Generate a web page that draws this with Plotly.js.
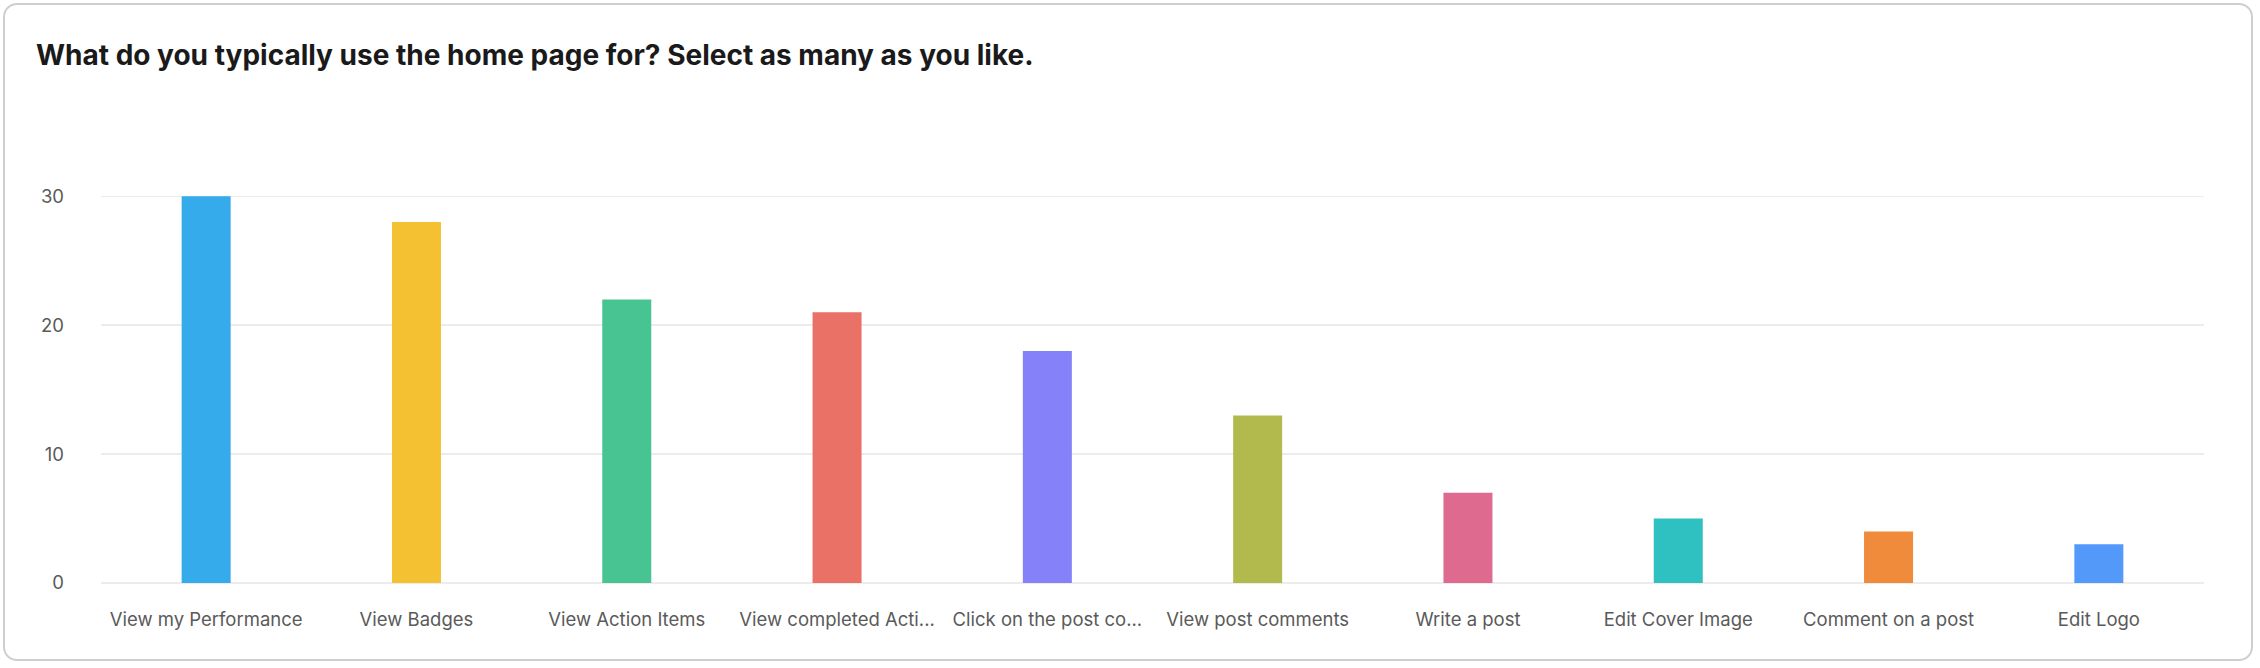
<!DOCTYPE html>
<html>
<head>
<meta charset="utf-8">
<script src="https://cdn.plot.ly/plotly-3.0.1.min.js"></script>
<style>
  html, body { margin: 0; padding: 0; background: #ffffff; }
  #wrap { position: relative; width: 2260px; height: 668px; }
  #chart { position: absolute; left: 0; top: 0; width: 2260px; height: 668px; }
  #card { position: absolute; left: 3px; top: 3px; width: 2246px; height: 654px;
          border: 2px solid #cfcfcf; border-radius: 14px; pointer-events: none; }
</style>
</head>
<body>
<div id="wrap">
  <div id="chart"></div>
  <div id="card"></div>
</div>
<script>
const categories = [
  "View my Performance", "View Badges", "View Action Items", "View completed Acti...",
  "Click on the post co...", "View post comments", "Write a post", "Edit Cover Image",
  "Comment on a post", "Edit Logo"
];
const counts = [30, 28, 22, 21, 18, 13, 7, 5, 4, 3];
const barColors = [
  "#36abeb", "#f3c131", "#48c493", "#e97166", "#8581f8",
  "#b2ba4e", "#de6a8f", "#2fc1c1", "#ef8b3a", "#5399fa"
];
const yTicks = [0, 10, 20, 30];
const chartTitle = "What do you typically use the home page for? Select as many as you like.";

const trace = {
  type: "bar",
  x: categories,
  y: counts,
  marker: { color: barColors, line: { width: 0 } },
  hoverinfo: "x+y"
};

const layout = {
  width: 2260,
  height: 668,
  paper_bgcolor: "#ffffff",
  plot_bgcolor: "#ffffff",
  margin: { l: 101, r: 56, t: 195.2, b: 85.3, pad: 0 },
  bargap: 0.767,
  showlegend: false,
  font: { family: "Inter, 'Noto Sans', sans-serif", color: "#5a5a5a", size: 18.5 },
  title: {
    text: chartTitle,
    font: { family: "Inter, 'Noto Sans', sans-serif", size: 28, color: "#1a1a1a", weight: 700 },
    xref: "container", yref: "container",
    x: 36 / 2260, xanchor: "left",
    y: 1 - 55 / 668, yanchor: "middle"
  },
  xaxis: {
    type: "category",
    showgrid: false,
    zeroline: false,
    showline: false,
    ticks: "",
    tickangle: 0,
    ticklabelstandoff: 23,
    tickfont: { size: 18.5, color: "#5a5a5a" }
  },
  yaxis: {
    range: [0, 30.1],
    tickvals: yTicks,
    ticktext: yTicks.map(String),
    showgrid: true,
    gridcolor: "#ececec",
    gridwidth: 1.5,
    zeroline: true,
    zerolinecolor: "#ececec",
    zerolinewidth: 1.5,
    showline: false,
    ticks: "",
    ticklabelstandoff: 36,
    tickfont: { size: 18.5, color: "#5a5a5a" }
  }
};

Plotly.newPlot("chart", [trace], layout, { displayModeBar: false, staticPlot: true });
</script>
</body>
</html>
